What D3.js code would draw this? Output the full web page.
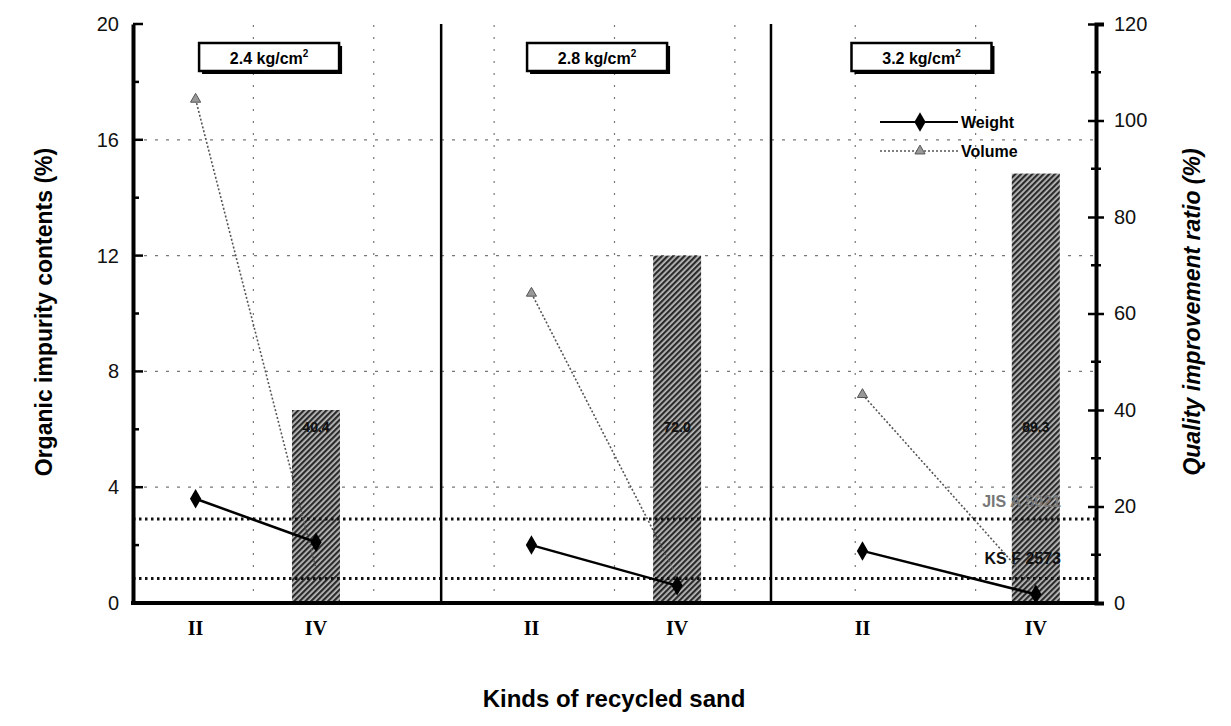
<!DOCTYPE html>
<html>
<head>
<meta charset="utf-8">
<script src="https://cdn.jsdelivr.net/npm/d3@7"></script>
<style>
  body { margin: 0; background: #fff; }
  svg text { font-family: Arial, "Liberation Sans", sans-serif; }
</style>
</head>
<body>
<div class="chart"></div>
<script>
// data
const pressures = ['2.4 kg/cm', '2.8 kg/cm', '3.2 kg/cm'];
const kinds = ['II', 'IV'];
const weight = [[3.6, 2.1], [2.0, 0.6], [1.8, 0.3]];      // left axis, %
const volume = [[17.4, 1.2], [10.7, 0.9], [7.2, 0.5]];     // left axis, %
const ratio = [40, 72, 89];                                // right axis, %
const ratioLabels = ['40.4', '72.0', '89.3'];
const standards = [{name: 'JIS A 5021', value: 2.9}, {name: 'KS F 2573', value: 0.85}];
const leftTicks = [0, 4, 8, 12, 16, 20];
const rightTicks = [0, 20, 40, 60, 80, 100, 120];

// layout (x in grid units, 0..8)
const slotX = [[0.52, 1.52], [3.31, 4.52], [6.06, 7.5]];
const dividers = [2.56, 5.3];

const width = 1231, height = 726;
const m = {left: 133, right: 135, top: 24, bottom: 123};

const svg = d3.select('.chart').append('svg')
  .attr('width', width).attr('height', height);

const x = d3.scaleLinear().domain([0, 8]).range([m.left, width - m.right]);
const yL = d3.scaleLinear().domain([0, 20]).range([height - m.bottom, m.top]);
const yR = d3.scaleLinear().domain([0, 120]).range([height - m.bottom, m.top]);

// hatch pattern for bars
const pat = svg.append('defs').append('pattern')
  .attr('id', 'hatch').attr('patternUnits', 'userSpaceOnUse')
  .attr('width', 4).attr('height', 4)
  .attr('patternTransform', 'rotate(45)');
pat.append('rect').attr('width', 4).attr('height', 4).attr('fill', '#bbb');
pat.append('rect').attr('width', 2.2).attr('height', 4).attr('fill', '#2a2a2a');

// grid
const grid = svg.append('g');
[4, 8, 12, 16].forEach(v => {
  grid.append('line')
    .attr('x1', x(0)).attr('x2', x(8)).attr('y1', yL(v)).attr('y2', yL(v))
    .attr('stroke', '#777').attr('stroke-width', 1.2).attr('stroke-dasharray', '3,8');
});
d3.range(1, 8).forEach(v => {
  grid.append('line')
    .attr('x1', x(v)).attr('x2', x(v)).attr('y1', yL(0)).attr('y2', yL(20))
    .attr('stroke', '#777').attr('stroke-width', 1.2).attr('stroke-dasharray', '2,10');
});

// bars
ratio.forEach((r, i) => {
  const cx = x(slotX[i][1]);
  svg.append('rect')
    .attr('x', cx - 24).attr('width', 48)
    .attr('y', yR(r)).attr('height', yR(0) - yR(r))
    .attr('fill', 'url(#hatch)');
  svg.append('text')
    .attr('x', cx).attr('y', yL(5.9))
    .attr('text-anchor', 'middle').attr('font-size', 14).attr('font-weight', 'bold')
    .attr('fill', '#111').text(ratioLabels[i]);
});

// standards
standards.forEach((s, i) => {
  svg.append('line')
    .attr('x1', x(0)).attr('x2', x(8)).attr('y1', yL(s.value)).attr('y2', yL(s.value))
    .attr('stroke', '#111').attr('stroke-width', 3).attr('stroke-dasharray', '2.5,3.5');
  svg.append('text')
    .attr('x', x(8) - 35).attr('y', yL(s.value) - (i === 0 ? 12 : 14))
    .attr('text-anchor', 'end').attr('font-size', 16).attr('font-weight', 'bold')
    .attr('fill', i === 0 ? '#777' : '#111').text(s.name);
});

// panel dividers
dividers.forEach(d => {
  svg.append('line')
    .attr('x1', x(d)).attr('x2', x(d)).attr('y1', yL(20)).attr('y2', yL(0))
    .attr('stroke', '#000').attr('stroke-width', 2.5);
});

// volume lines
const line = d3.line().x(d => x(d[0])).y(d => yL(d[1]));
volume.forEach((v, i) => {
  const pts = v.map((val, j) => [slotX[i][j], val]);
  svg.append('path').attr('d', line(pts))
    .attr('fill', 'none').attr('stroke', '#555').attr('stroke-width', 1.6)
    .attr('stroke-dasharray', '2,2');
  svg.append('path')
    .attr('d', d3.symbol(d3.symbolTriangle, 45)())
    .attr('transform', `translate(${x(pts[0][0])},${yL(pts[0][1])})`)
    .attr('fill', '#999').attr('stroke', '#555');
});

// weight lines
weight.forEach((w, i) => {
  const pts = w.map((val, j) => [slotX[i][j], val]);
  svg.append('path').attr('d', line(pts))
    .attr('fill', 'none').attr('stroke', '#000').attr('stroke-width', 2.5);
  svg.selectAll(null).data(pts).enter().append('path')
    .attr('d', d3.symbol(d3.symbolDiamond, 110)())
    .attr('transform', d => `translate(${x(d[0])},${yL(d[1])})`)
    .attr('fill', '#000');
});

// panel title boxes
pressures.forEach((p, i) => {
  const cx = (x(i === 0 ? 0 : dividers[i - 1]) + x(i === 2 ? 8 : dividers[i])) / 2 + [-18, -9, -12][i];
  const g = svg.append('g');
  const t = g.append('text').attr('x', cx).attr('y', 64)
    .attr('text-anchor', 'middle').attr('font-size', 16).attr('font-weight', 'bold');
  t.append('tspan').text(p);
  t.append('tspan').attr('dy', -7).attr('font-size', 10).text('2');
  const bw = 140;
  g.insert('rect', 'text').attr('x', cx - bw / 2 + 3).attr('y', 46).attr('width', bw).attr('height', 28).attr('fill', '#000');
  g.insert('rect', 'text').attr('x', cx - bw / 2).attr('y', 43).attr('width', bw).attr('height', 28)
    .attr('fill', '#fff').attr('stroke', '#000').attr('stroke-width', 2.5);
});

// legend
const lg = svg.append('g').attr('transform', 'translate(880,122)');
lg.append('line').attr('x1', 0).attr('x2', 78).attr('stroke', '#000').attr('stroke-width', 2);
lg.append('path').attr('d', d3.symbol(d3.symbolDiamond, 110)()).attr('transform', 'translate(40,0)');
lg.append('text').attr('x', 81).attr('y', 6).attr('font-size', 16).attr('font-weight', 'bold').text('Weight');
lg.append('line').attr('x1', 0).attr('x2', 78).attr('y1', 29).attr('y2', 29)
  .attr('stroke', '#555').attr('stroke-width', 1.6).attr('stroke-dasharray', '2,2');
lg.append('path').attr('d', d3.symbol(d3.symbolTriangle, 45)()).attr('transform', 'translate(40,29)')
  .attr('fill', '#999').attr('stroke', '#555');
lg.append('text').attr('x', 81).attr('y', 35).attr('font-size', 16).attr('font-weight', 'bold').text('Volume');

// axes
const axL = svg.append('g').attr('transform', `translate(${m.left},0)`)
  .call(d3.axisLeft(yL).tickValues(leftTicks).tickSize(0).tickPadding(14));
axL.select('.domain').attr('stroke-width', 4);
axL.selectAll('text').attr('font-size', 20).attr('fill', '#111');
d3.range(0, 21, 2).forEach(v => {
  axL.append('line').attr('x1', 0).attr('x2', v % 4 === 0 ? 10 : 6)
    .attr('y1', yL(v)).attr('y2', yL(v)).attr('stroke', '#000').attr('stroke-width', 2.5);
});

const axR = svg.append('g').attr('transform', `translate(${width - m.right},0)`)
  .call(d3.axisRight(yR).tickValues(rightTicks).tickSize(8).tickPadding(10));
axR.select('.domain').attr('stroke-width', 4);
axR.selectAll('.tick line').attr('stroke-width', 2.5).attr('x1', -8);
axR.selectAll('text').attr('font-size', 20).attr('fill', '#111');
d3.range(10, 120, 20).forEach(v => {
  axR.append('line').attr('x1', -5).attr('x2', 5)
    .attr('y1', yR(v)).attr('y2', yR(v)).attr('stroke', '#000').attr('stroke-width', 2.5);
});

svg.append('line').attr('x1', x(0) - 2).attr('x2', x(8) + 2)
  .attr('y1', yL(0)).attr('y2', yL(0)).attr('stroke', '#000').attr('stroke-width', 4);

// category labels
slotX.forEach(s => {
  s.forEach((v, j) => {
    svg.append('text').attr('x', x(v)).attr('y', 635)
      .attr('text-anchor', 'middle').attr('font-size', 20).attr('font-weight', 'bold')
      .style('font-family', '"Liberation Serif", "DejaVu Serif", serif').text(kinds[j]);
  });
});

// titles
svg.append('text').attr('transform', 'translate(52,312) rotate(-90)')
  .attr('text-anchor', 'middle').attr('font-size', 23).attr('font-weight', 'bold')
  .text('Organic impurity contents (%)');
svg.append('text').attr('transform', 'translate(1200,312) rotate(-90)')
  .attr('text-anchor', 'middle').attr('font-size', 23).attr('font-weight', 'bold').attr('font-style', 'italic')
  .text('Quality improvement ratio (%)');
svg.append('text').attr('x', 614).attr('y', 707)
  .attr('text-anchor', 'middle').attr('font-size', 24).attr('font-weight', 'bold')
  .text('Kinds of recycled sand');
</script>
</body>
</html>
